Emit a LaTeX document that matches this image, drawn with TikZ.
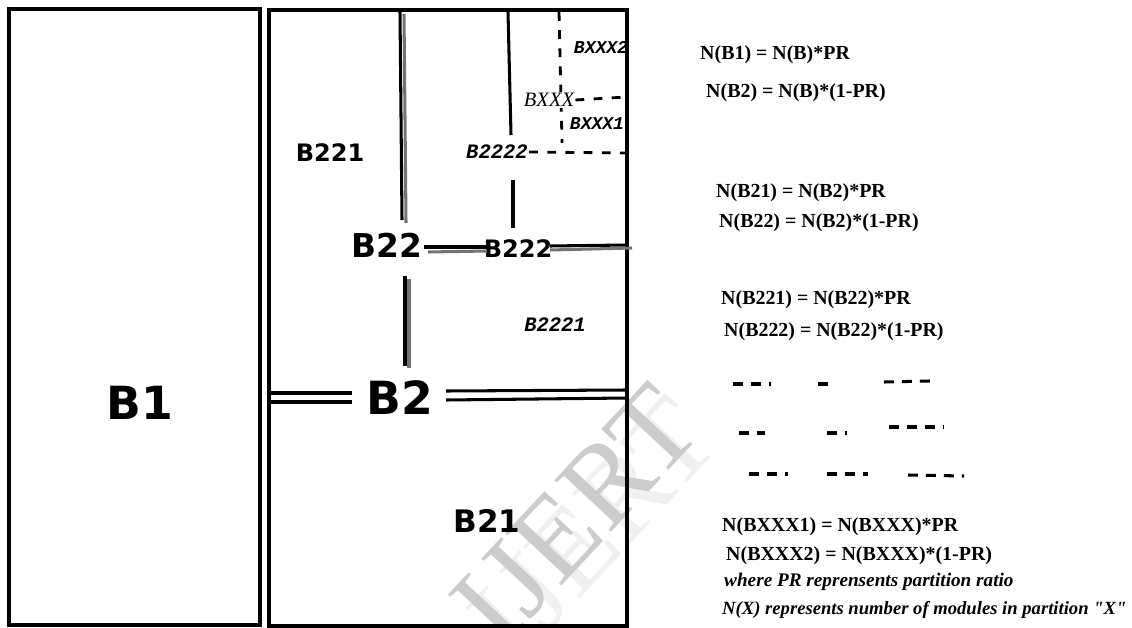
\documentclass[tikz,border=0pt]{standalone}
\usepackage{fontspec}
\setmainfont{Liberation Serif}
\newfontfamily\blockfont{DejaVu Sans}
\newfontfamily\cellfont{Liberation Mono}
\newfontfamily\notefont{Liberation Serif}
\usetikzlibrary{positioning}

\begin{document}
\begin{tikzpicture}[x=0.03cm,y=-0.03cm,
  wall/.style={line width=2.6pt},
  ghost/.style={line width=2.6pt,black!55},
  cut/.style={line width=2.4pt,dash pattern=on 7.5pt off 8pt},
  dots/.style={line width=2.6pt,dash pattern=on 8.5pt off 6.8pt},
  blk/.style={inner sep=0pt,font=\blockfont\bfseries\fontsize{#1}{#1}\selectfont},
  sub/.style={inner sep=1pt,font=\cellfont\bfseries\itshape\fontsize{#1}{#1}\selectfont},
  eqn/.style={anchor=west,inner sep=0pt,font=\bfseries\fontsize{17}{20}\selectfont},
  note/.style={anchor=west,inner sep=0pt,font=\notefont\bfseries\itshape\fontsize{#1}{20}\selectfont},
  stamp/.style={rotate=47,inner sep=0pt,font=\fontsize{100}{100}\selectfont}]
  \useasboundingbox (0,0) rectangle (1132,628);

  % watermark
  \node[stamp,text=black!6] (shade) at (594,528) {IJERT};
  \node[stamp,text=black!20] (mark) at (576,515) {IJERT};

  % outer blocks
  \draw[wall] (9,9) rectangle (260,625);
  \draw[wall] (269,10) rectangle (627,626);

  \node[blk=39] (B1) at (140,403) {B1};
  \node[blk=39] (B2) at (400,398) {B2};
  \node[blk=28] (B22) at (387,245) {B22};
  \node[blk=20.5] (B222) at (518,249) {B222};
  \node[blk=20.5] (B221) at (330,153) {B221};
  \node[blk=26.5] (B21) at (487,521) {B21};

  % B2 split
  \draw[wall] (271,393) -- (352,393);
  \draw[wall] (271,402) -- (352,402);
  \draw[wall] (446,391) -- (627,390);
  \draw[wall] (446,400) -- (627,398);
  \draw[wall] (405,276) -- (405,366);
  \draw[ghost] (409,279) -- (409,368);

  % B22 split
  \draw[wall] (400,12) -- (402,220);
  \draw[ghost] (404,14) -- (406,223);
  \draw[wall] (424,247) -- (487,247);
  \draw[ghost] (428,252) -- (487,251);
  \draw[wall] (550,246) -- (627,245);
  \draw[ghost] (550,250) -- (632,248);

  % B222 split
  \draw[wall] (508,12) -- (511,135);
  \draw[wall] (513,180) -- (513,228);
  \node[sub=17.5] (B2222) at (497,152) {B2222};
  \node[sub=17.5] (B2221) at (555,325) {B2221};
  \draw[cut] (B2222.east) -- (627,153);

  % BXXX split
  \draw[cut] (559,12) -- (562,143);
  \node[inner sep=1pt,fill=white,font=\itshape\fontsize{17.5}{17.5}\selectfont] (BXXX) at (549,100) {BXXX};
  \draw[cut] (BXXX.east) -- (627,97);
  \node[sub=15.4] (BXXX2) at (601,47) {BXXX2};
  \node[sub=15.4] (BXXX1) at (597,124) {BXXX1};

  % formulas
  \node[eqn] (eqB1) at (700,55) {N(B1) = N(B)*PR};
  \node[eqn] (eqB2) at (706,93) {N(B2) = N(B)*(1-PR)};
  \node[eqn] (eqB21) at (716,193) {N(B21) = N(B2)*PR};
  \node[eqn] (eqB22) at (719,223) {N(B22) = N(B2)*(1-PR)};
  \node[eqn] (eqB221) at (721,300) {N(B221) = N(B22)*PR};
  \node[eqn] (eqB222) at (724,332) {N(B222) = N(B22)*(1-PR)};

  % and so on
  \foreach \xa/\xb/\ya/\yb in {733/771/384/384, 818/828/384/384, 884/930/382/381,
      739/765/433/433, 827/847/433/433, 889/944/427/427,
      749/788/474/474, 827/868/474/474, 908/964/475/476}
    \draw[dots] (\xa,\ya) -- (\xb,\yb);

  \node[eqn] (eqX1) at (722,527) {N(BXXX1) = N(BXXX)*PR};
  \node[eqn] (eqX2) at (726,556) {N(BXXX2) = N(BXXX)*(1-PR)};
  \node[note=16.4] (note1) at (724,582) {where PR reprensents partition ratio};
  \node[note=15.9] (note2) at (722,610) {N(X) represents number of modules in partition "X"};
\end{tikzpicture}
\end{document}
